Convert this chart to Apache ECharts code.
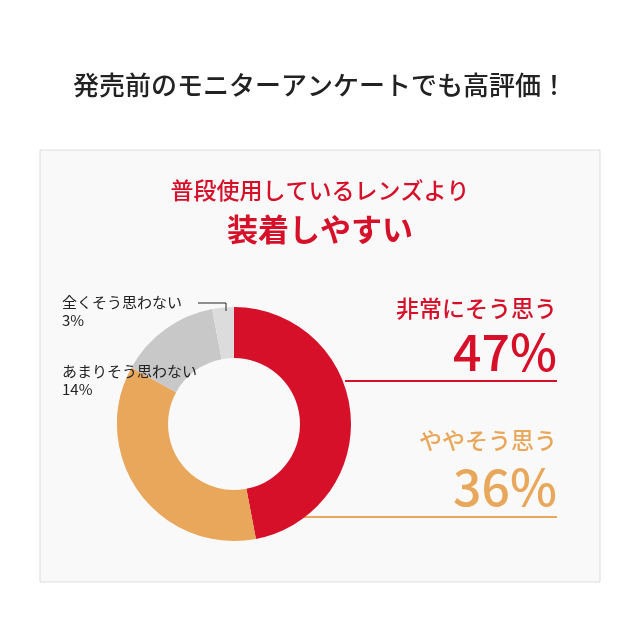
<!DOCTYPE html>
<html>
<head>
<meta charset="utf-8">
<script src="https://cdn.jsdelivr.net/npm/echarts@6/dist/echarts.min.js"></script>
<style>
  html, body { margin: 0; padding: 0; background: #fff; }
  #main { width: 640px; height: 640px; }
</style>
</head>
<body>
<div id="main"></div>
<script>
const categories = ['非常にそう思う', 'ややそう思う', 'あまりそう思わない', '全くそう思わない'];
const values = [47, 36, 14, 3];
const colors = ['#d7102a', '#e8a75a', '#c8c8c8', '#dcdcdc'];

const font = '"Noto Sans CJK JP", sans-serif';
const chart = echarts.init(document.getElementById('main'));

chart.setOption({
  backgroundColor: '#fff',
  graphic: [
    { type: 'rect', shape: { x: 40, y: 150, width: 560, height: 432 }, style: { fill: '#f9f9f9', stroke: '#dddddd', lineWidth: 1 }, z: -10 },
    { type: 'text', x: 320, y: 85, style: { text: '発売前のモニターアンケートでも高評価！', font: '500 26px ' + font, fill: '#222', align: 'center', verticalAlign: 'middle' } },
    { type: 'text', x: 320, y: 190, style: { text: '普段使用しているレンズより', font: '500 23px ' + font, fill: '#d7102a', align: 'center', verticalAlign: 'middle' } },
    { type: 'text', x: 320, y: 229, style: { text: '装着しやすい', font: 'bold 31px ' + font, fill: '#d7102a', align: 'center', verticalAlign: 'middle' } },
    { type: 'text', x: 557, y: 308, style: { text: categories[0], font: '500 23px ' + font, fill: '#d7102a', align: 'right', verticalAlign: 'middle' } },
    { type: 'text', x: 557, y: 352, style: { text: values[0] + '%', font: '500 50px ' + font, fill: '#d7102a', align: 'right', verticalAlign: 'middle' } },
    { type: 'line', shape: { x1: 345, y1: 381, x2: 557, y2: 381 }, style: { stroke: '#d7102a', lineWidth: 2 } },
    { type: 'text', x: 557, y: 440, style: { text: categories[1], font: '500 23px ' + font, fill: '#e8a75a', align: 'right', verticalAlign: 'middle' } },
    { type: 'text', x: 557, y: 487, style: { text: values[1] + '%', font: '500 50px ' + font, fill: '#e8a75a', align: 'right', verticalAlign: 'middle' } },
    { type: 'line', shape: { x1: 252, y1: 517, x2: 557, y2: 517 }, style: { stroke: '#e8a75a', lineWidth: 2 } },
    { type: 'text', z: 100, x: 62, y: 311, style: { text: categories[3] + '\n' + values[3] + '%', font: '15px ' + font, fill: '#222', lineHeight: 18, verticalAlign: 'middle' } },
    { type: 'polyline', z: 100, shape: { points: [[198, 303], [226, 303], [226, 311]] }, style: { stroke: '#222', lineWidth: 1 } },
    { type: 'text', z: 100, x: 62, y: 380, style: { text: categories[2] + '\n' + values[2] + '%', font: '15px ' + font, fill: '#222', lineHeight: 18, verticalAlign: 'middle' } }
  ],
  series: [{
    type: 'pie',
    z: 1,
    center: [234, 424],
    radius: [66, 117],
    startAngle: 90,
    clockwise: true,
    label: { show: false },
    labelLine: { show: false },
    silent: true,
    data: categories.map((c, i) => ({ name: c, value: values[i], itemStyle: { color: colors[i] } }))
  }]
});
</script>
</body>
</html>
